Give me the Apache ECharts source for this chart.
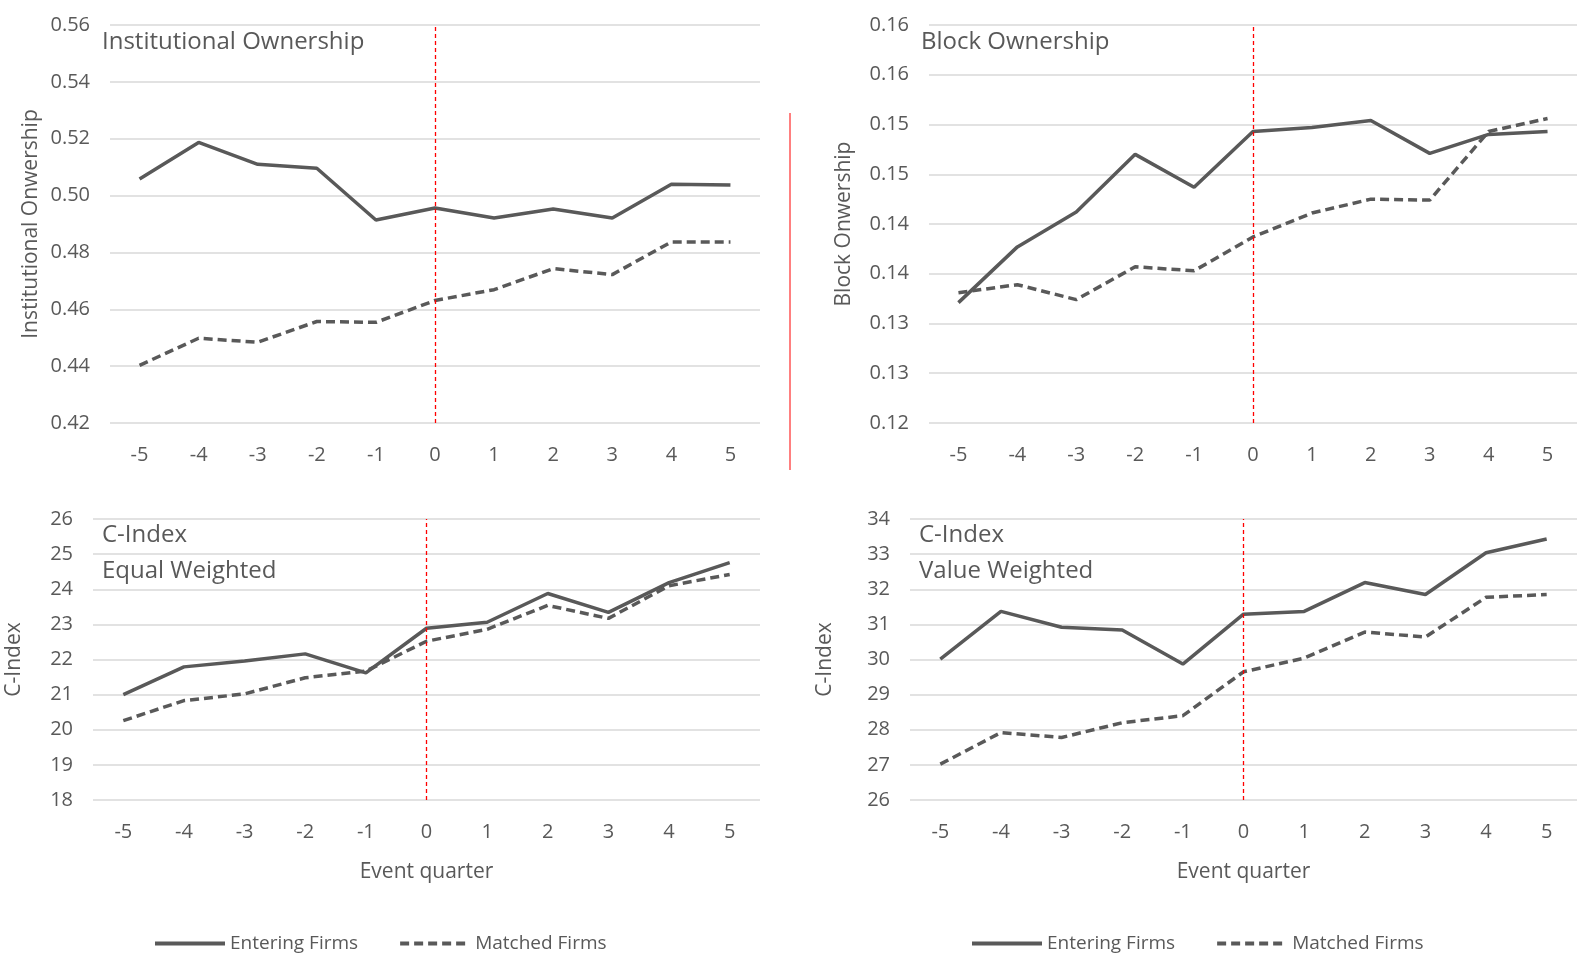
<!DOCTYPE html>
<html>
<head>
<meta charset="utf-8">
<script src="https://cdn.jsdelivr.net/npm/echarts@6/dist/echarts.min.js"></script>
<style>html,body{margin:0;padding:0;background:#fff}#main{width:1577px;height:955px}</style>
</head>
<body>
<div id="main"></div>
<script>
var quarters = ['-5', '-4', '-3', '-2', '-1', '0', '1', '2', '3', '4', '5'];

var instEntering = [0.5058, 0.5187, 0.5110, 0.5096, 0.4914, 0.4956, 0.4921, 0.4953, 0.4921, 0.5040, 0.5037];
var instMatched = [0.4403, 0.4498, 0.4484, 0.4557, 0.4554, 0.4631, 0.4669, 0.4743, 0.4722, 0.4837, 0.4837];

var blockEntering = [0.1321, 0.1377, 0.1412, 0.1470, 0.1437, 0.1493, 0.1497, 0.1504, 0.1471, 0.1490, 0.1493];
var blockMatched = [0.1331, 0.1339, 0.1324, 0.1357, 0.1353, 0.1387, 0.1411, 0.1425, 0.1424, 0.1493, 0.1506];

var ewEntering = [21.00, 21.79, 21.96, 22.16, 21.62, 22.89, 23.06, 23.88, 23.34, 24.19, 24.76];
var ewMatched = [20.26, 20.83, 21.02, 21.48, 21.67, 22.52, 22.86, 23.54, 23.17, 24.10, 24.42];

var vwEntering = [30.01, 31.37, 30.92, 30.84, 29.87, 31.29, 31.37, 32.19, 31.85, 33.04, 33.43];
var vwMatched = [27.02, 27.92, 27.78, 28.20, 28.40, 29.65, 30.04, 30.78, 30.64, 31.77, 31.85];

var txt = '#595959';
var fontFam = '"Open Sans", "Liberation Sans", sans-serif';

function xAxis(idx, showName) {
  return {
    type: 'category', gridIndex: idx, data: quarters,
    axisLine: { show: false }, axisTick: { show: false },
    axisLabel: { color: txt, fontSize: 20, fontFamily: fontFam, margin: 22 },
    name: showName ? 'Event quarter' : '', nameLocation: 'middle', nameGap: 62,
    nameTextStyle: { color: txt, fontSize: 21, fontFamily: fontFam }
  };
}

function yAxis(idx, min, max, interval, name, fmt) {
  return {
    type: 'value', gridIndex: idx, min: min, max: max, interval: interval,
    axisLine: { show: false }, axisTick: { show: false },
    splitLine: { lineStyle: { color: '#d9d9d9', width: 1.5 } },
    axisLabel: { color: txt, fontSize: 20, fontFamily: fontFam, margin: 20, formatter: fmt },
    name: name, nameLocation: 'middle', nameGap: idx % 2 === 0 ? 68 : 74, nameRotate: 90,
    nameTextStyle: { color: txt, fontSize: 21, fontFamily: fontFam }
  };
}

function lines(idx, entering, matched) {
  return [
    {
      name: 'Entering Firms', type: 'line', xAxisIndex: idx, yAxisIndex: idx,
      data: entering, symbol: 'none', lineStyle: { color: txt, width: 3.5 },
      itemStyle: { color: txt },
      markLine: {
        symbol: 'none', silent: true, label: { show: false },
        lineStyle: { color: '#ff0000', type: [4, 3], width: 1.3 },
        data: [{ xAxis: '0' }]
      }
    },
    {
      name: 'Matched Firms', type: 'line', xAxisIndex: idx, yAxisIndex: idx,
      data: matched, symbol: 'none', lineStyle: { color: txt, width: 3.5, type: [9, 5] },
      itemStyle: { color: txt }
    }
  ];
}

function panelText(x, y, t) {
  return { type: 'text', left: x, top: y, style: { text: t, fill: txt, font: '24px ' + fontFam, lineHeight: 36 } };
}

function legendAt(x) {
  return {
    left: x, top: 929, itemWidth: 70, itemHeight: 14, itemGap: 40,
    data: ['Entering Firms', 'Matched Firms'],
    itemStyle: { opacity: 0 },
    lineStyle: { width: 4 },
    textStyle: { color: txt, fontSize: 19, fontFamily: fontFam }
  };
}

var option = {
  animation: false,
  grid: [
    { left: 110, right: 817, top: 25, bottom: 532 },
    { left: 929, right: -3, top: 25, bottom: 532 },
    { left: 93, right: 817, top: 519, bottom: 155 },
    { left: 910, right: 0, top: 519, bottom: 155 }
  ],
  xAxis: [xAxis(0, false), xAxis(1, false), xAxis(2, true), xAxis(3, true)],
  yAxis: [
    yAxis(0, 0.42, 0.56, 0.02, 'Institutional Onwership', function (v) { return v.toFixed(2); }),
    yAxis(1, 0.12, 0.16, 0.005, 'Block Onwership', function (v) { return (Math.round(v * 100 + 1e-6) / 100).toFixed(2); }),
    yAxis(2, 18, 26, 1, 'C-Index'),
    yAxis(3, 26, 34, 1, 'C-Index')
  ],
  legend: [legendAt(148), legendAt(965)],
  graphic: [
    panelText(102, 24, 'Institutional Ownership'),
    panelText(921, 24, 'Block Ownership'),
    panelText(102, 517, 'C-Index\nEqual Weighted'),
    panelText(919, 517, 'C-Index\nValue Weighted'),
    { type: 'line', shape: { x1: 790, y1: 113, x2: 790, y2: 470 }, style: { stroke: '#ff0000', lineWidth: 1 } }
  ],
  series: [].concat(
    lines(0, instEntering, instMatched),
    lines(1, blockEntering, blockMatched),
    lines(2, ewEntering, ewMatched),
    lines(3, vwEntering, vwMatched)
  )
};

echarts.init(document.getElementById('main')).setOption(option);
</script>
</body>
</html>
